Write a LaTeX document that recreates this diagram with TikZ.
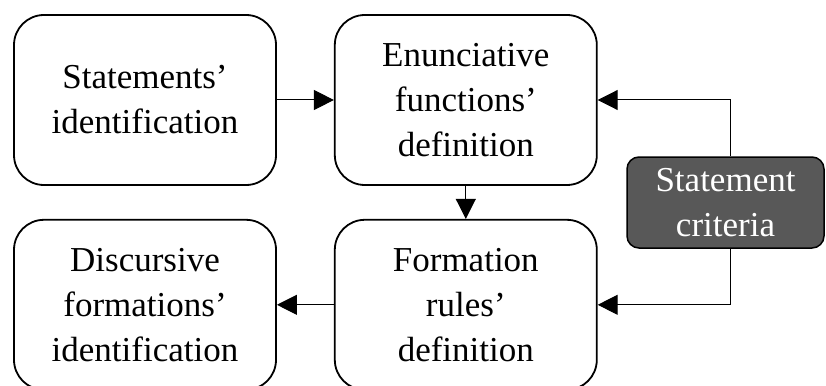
\documentclass[tikz,border=0pt]{standalone}
\usepackage{fontspec}
\setmainfont{Liberation Serif}
\usepackage{xcolor}
\usetikzlibrary{arrows.meta,positioning}
\definecolor{critgray}{HTML}{585858}

\begin{document}
\begin{tikzpicture}[
  x=1pt, y=1pt,
  font=\fontsize{35}{45}\selectfont,
  stepbox/.style={rounded corners=30pt, draw=black, line width=1.8pt, fill=white,
                  minimum width=262pt, minimum height=170pt, align=center, inner sep=2pt},
  critbox/.style={rounded corners=12pt, draw=black, line width=1.5pt, fill=critgray,
                  text=white, minimum width=197pt, minimum height=91pt, align=center, inner sep=2pt},
  >={Triangle[length=20pt, width=20pt]},
  flow/.style={->, line width=1pt, draw=black},
]
\clip (0,0) rectangle (826,-385);
% ----- upper row -----
\node[stepbox] (ident) at (145,-100) {Statements'\\identification};
\node[stepbox, right=57pt of ident] (enunc) {Enunciative\\functions'\\definition};
% ----- lower row -----
\node[stepbox, below=33pt of enunc] (rules) {Formation\\rules'\\definition};
\node[stepbox, below=33pt of ident] (discur) {Discursive\\formations'\\identification};
% ----- criteria -----
\node[critbox] (crit) at (725.5,-202.5) {Statement\\criteria};
% ----- connectors -----
\draw[flow] (ident) -- (enunc);
\draw[flow] (enunc) -- (rules);
\draw[flow] (rules) -- (discur);
\draw[flow] ([xshift=5pt]crit.north) |- (enunc.east);
\draw[flow] ([xshift=5pt]crit.south) |- (rules.east);
\end{tikzpicture}
\end{document}
